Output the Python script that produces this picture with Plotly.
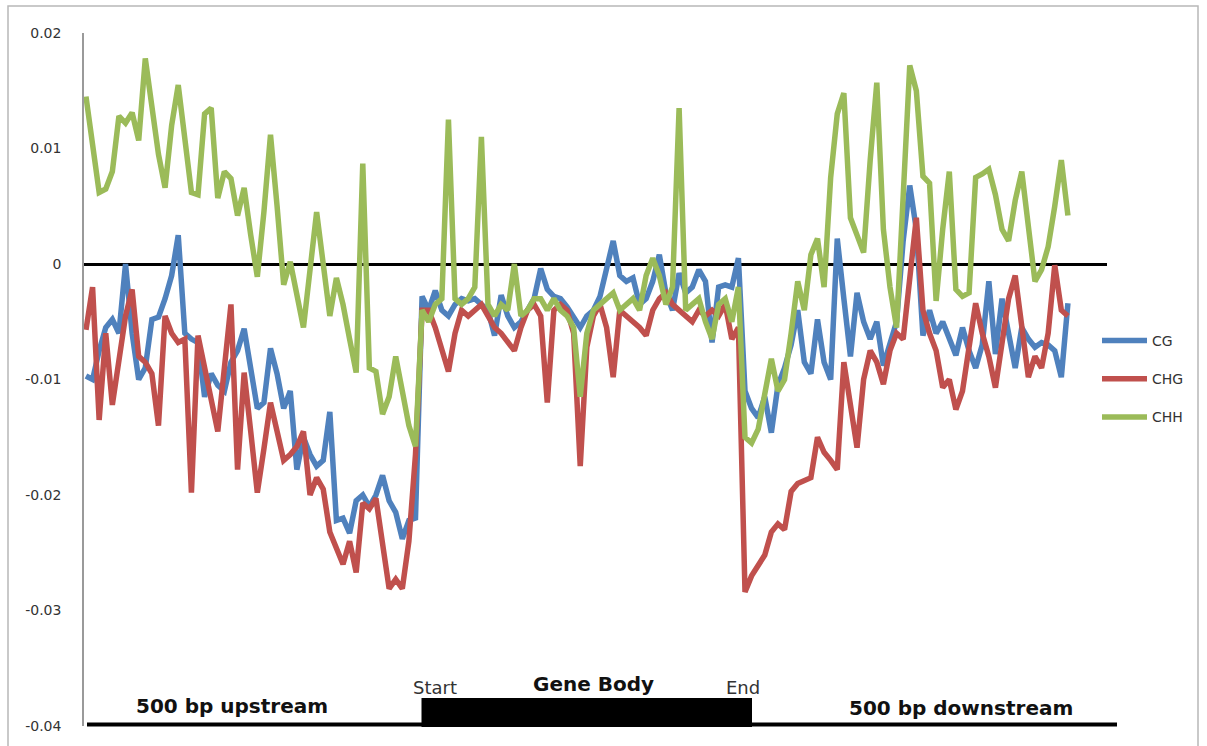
import plotly.graph_objects as go

# ---------------- data ----------------
SERIES_NAMES = ["CG", "CHG", "CHH"]
SERIES_COLORS = ["#4F81BD", "#C0504D", "#9BBB59"]

CG = [
    -0.0097, -0.0100, -0.0075, -0.0055, -0.0048, -0.0060, 0.0000, -0.0060, -0.0100, -0.0090,
    -0.0048, -0.0046, -0.0030, -0.0010, 0.0025, -0.0060, -0.0065, -0.0068, -0.0115, -0.0095,
    -0.0105, -0.0110, -0.0085, -0.0075, -0.0056, -0.0090, -0.0125, -0.0120, -0.0073, -0.0095,
    -0.0125, -0.0110, -0.0178, -0.0150, -0.0165, -0.0175, -0.0170, -0.0128, -0.0222, -0.0220,
    -0.0233, -0.0205, -0.0200, -0.0210, -0.0200, -0.0183, -0.0205, -0.0215, -0.0238, -0.0222,
    -0.0220, -0.0028, -0.0040, -0.0023, -0.0040, -0.0045, -0.0035, -0.0030, -0.0032, -0.0030,
    -0.0035, -0.0040, -0.0062, -0.0027, -0.0045, -0.0055, -0.0050, -0.0040, -0.0030, -0.0004,
    -0.0022, -0.0028, -0.0030, -0.0037, -0.0045, -0.0055, -0.0045, -0.0040, -0.0028, -0.0005,
    0.0020, -0.0010, -0.0015, -0.0012, -0.0035, -0.0030, -0.0015, 0.0008, -0.0025, -0.0040,
    -0.0008, -0.0025, -0.0020, -0.0005, -0.0015, -0.0068, -0.0020, -0.0018, -0.0020, 0.0005,
    -0.0110, -0.0125, -0.0133, -0.0115, -0.0146, -0.0105, -0.0090, -0.0070, -0.0040, -0.0085,
    -0.0095, -0.0048, -0.0085, -0.0100, 0.0022, -0.0030, -0.0080, -0.0025, -0.0050, -0.0065,
    -0.0050, -0.0088, -0.0070, -0.0050, 0.0020, 0.0068, 0.0030, -0.0062, -0.0040, -0.0060,
    -0.0050, -0.0065, -0.0079, -0.0055, -0.0075, -0.0090, -0.0070, -0.0015, -0.0078, -0.0030,
    -0.0060, -0.0090, -0.0055, -0.0065, -0.0072, -0.0068, -0.0070, -0.0075, -0.0098, -0.0034,
]

CHG = [
    -0.0057, -0.0020, -0.0135, -0.0060, -0.0122, -0.0080, -0.0045, -0.0022, -0.0080, -0.0085,
    -0.0095, -0.0140, -0.0045, -0.0060, -0.0068, -0.0065, -0.0198, -0.0062, -0.0090, -0.0115,
    -0.0145, -0.0090, -0.0035, -0.0178, -0.0094, -0.0145, -0.0198, -0.0160, -0.0120, -0.0145,
    -0.0170, -0.0165, -0.0158, -0.0145, -0.0200, -0.0185, -0.0195, -0.0232, -0.0245, -0.0260,
    -0.0240, -0.0267, -0.0207, -0.0212, -0.0203, -0.0245, -0.0281, -0.0273, -0.0281, -0.0240,
    -0.0165, -0.0040, -0.0040, -0.0055, -0.0075, -0.0093, -0.0060, -0.0040, -0.0045, -0.0040,
    -0.0035, -0.0045, -0.0055, -0.0060, -0.0068, -0.0075, -0.0055, -0.0040, -0.0035, -0.0045,
    -0.0120, -0.0040, -0.0035, -0.0040, -0.0060, -0.0175, -0.0072, -0.0045, -0.0035, -0.0055,
    -0.0098, -0.0040, -0.0045, -0.0050, -0.0055, -0.0062, -0.0040, -0.0030, -0.0025, -0.0035,
    -0.0040, -0.0045, -0.0050, -0.0040, -0.0045, -0.0040, -0.0045, -0.0035, -0.0065, -0.0055,
    -0.0284, -0.0270, -0.0262, -0.0252, -0.0232, -0.0225, -0.0230, -0.0197, -0.0190, -0.0188,
    -0.0185, -0.0150, -0.0163, -0.0170, -0.0178, -0.0085, -0.0120, -0.0159, -0.0100, -0.0075,
    -0.0085, -0.0104, -0.0075, -0.0060, -0.0065, -0.0010, 0.0040, -0.0040, -0.0060, -0.0075,
    -0.0107, -0.0100, -0.0126, -0.0110, -0.0070, -0.0034, -0.0060, -0.0080, -0.0107, -0.0070,
    -0.0030, -0.0010, -0.0050, -0.0098, -0.0080, -0.0090, -0.0060, -0.0001, -0.0040, -0.0045,
]

CHH = [
    0.0145, 0.0105, 0.0062, 0.0065, 0.0080, 0.0128, 0.0122, 0.0131, 0.0107, 0.0178,
    0.0135, 0.0095, 0.0066, 0.0120, 0.0155, 0.0110, 0.0062, 0.0060, 0.0130, 0.0135,
    0.0057, 0.0080, 0.0074, 0.0042, 0.0066, 0.0025, -0.0011, 0.0045, 0.0112, 0.0050,
    -0.0018, 0.0002, -0.0025, -0.0055, -0.0005, 0.0045, 0.0000, -0.0045, -0.0012, -0.0035,
    -0.0065, -0.0094, 0.0087, -0.0090, -0.0093, -0.0130, -0.0115, -0.0080, -0.0110, -0.0140,
    -0.0158, -0.0040, -0.0050, -0.0035, -0.0030, 0.0125, -0.0030, -0.0035, -0.0030, -0.0020,
    0.0110, -0.0035, -0.0045, -0.0035, -0.0040, 0.0000, -0.0045, -0.0040, -0.0030, -0.0030,
    -0.0040, -0.0030, -0.0040, -0.0045, -0.0055, -0.0115, -0.0060, -0.0040, -0.0035, -0.0030,
    -0.0025, -0.0040, -0.0035, -0.0030, -0.0040, -0.0010, 0.0005, -0.0010, -0.0035, -0.0020,
    0.0135, -0.0040, -0.0035, -0.0030, -0.0050, -0.0065, -0.0035, -0.0030, -0.0050, -0.0020,
    -0.0150, -0.0155, -0.0143, -0.0110, -0.0082, -0.0110, -0.0100, -0.0060, -0.0015, -0.0040,
    0.0008, 0.0022, -0.0020, 0.0075, 0.0130, 0.0148, 0.0040, 0.0025, 0.0010, 0.0090,
    0.0157, 0.0030, -0.0020, -0.0055, 0.0060, 0.0172, 0.0150, 0.0076, 0.0070, -0.0032,
    0.0030, 0.0080, -0.0022, -0.0028, -0.0025, 0.0075, 0.0078, 0.0082, 0.0060, 0.0030,
    0.0020, 0.0055, 0.0080, 0.0030, -0.0015, -0.0005, 0.0015, 0.0050, 0.0090, 0.0042,
]

Y_TICKS = [0.02, 0.01, 0, -0.01, -0.02, -0.03, -0.04]
Y_TICK_TEXT = ["0.02", "0.01", "0", "-0.01", "-0.02", "-0.03", "-0.04"]
REGION_LABELS = ["500 bp upstream", "Gene Body", "500 bp downstream"]
GENE_MARK_LABELS = ["Start", "End"]

# ---------------- layout geometry ----------------
W, H = 1207, 746
PL, PR, PT, PB = 84, 1107, 33, 726          # plot area in pixels
X_MIN, X_MAX = -0.30, 154.93                 # index range shown
Y_MIN, Y_MAX = -0.04, 0.02


def px_x(px):
    return (px - PL) / (PR - PL)


def px_y(py):
    return (PB - py) / (PB - PT)


x_idx = list(range(len(CG)))
fig = go.Figure()
for name, ys, col in zip(SERIES_NAMES, [CG, CHG, CHH], SERIES_COLORS):
    fig.add_trace(go.Scatter(
        x=x_idx, y=ys, mode="lines", name=name, legendgroup=name,
        line=dict(color=col, width=5.5),
    ))

font_main = "DejaVu Sans"

annotations = [
    dict(x=px_x(232), y=px_y(706), text=REGION_LABELS[0],
         font=dict(family=font_main, size=20, color="#111"), ),
    dict(x=px_x(593), y=px_y(684), text=REGION_LABELS[1],
         font=dict(family=font_main, size=20, color="#111"), ),
    dict(x=px_x(961), y=px_y(708), text=REGION_LABELS[2],
         font=dict(family=font_main, size=20, color="#111"), ),
    dict(x=px_x(435), y=px_y(687), text=GENE_MARK_LABELS[0],
         font=dict(family=font_main, size=18, color="#333"), ),
    dict(x=px_x(743), y=px_y(687), text=GENE_MARK_LABELS[1],
         font=dict(family=font_main, size=18, color="#333"), ),
]
for a in annotations:
    a.update(xref="paper", yref="paper", showarrow=False,
             xanchor="center", yanchor="middle")
    if a["text"] in REGION_LABELS:
        a["text"] = "<b>" + a["text"] + "</b>"

shapes = [
    # outer frame
    dict(type="rect", xref="paper", yref="paper",
         x0=px_x(8), x1=px_x(1198), y0=px_y(752), y1=px_y(6),
         line=dict(color="#b8b8b8", width=1.5), fillcolor="rgba(0,0,0,0)", layer="below"),
    # gene model baseline
    dict(type="line", xref="paper", yref="paper",
         x0=px_x(87), x1=px_x(1117), y0=px_y(724.5), y1=px_y(724.5),
         line=dict(color="black", width=4)),
    # gene body box
    dict(type="rect", xref="paper", yref="paper",
         x0=px_x(421.5), x1=px_x(752), y0=px_y(727), y1=px_y(698),
         line=dict(color="black", width=0), fillcolor="black"),
]

fig.update_layout(
    width=W, height=H,
    margin=dict(l=PL, r=W - PR, t=PT, b=H - PB, pad=0),
    paper_bgcolor="white", plot_bgcolor="white",
    showlegend=True,
    legend=dict(x=px_x(1097), y=px_y(325), xanchor="left", yanchor="top",
                font=dict(family=font_main, size=14, color="#333"),
                itemwidth=45,
                tracegroupgap=17, bgcolor="rgba(0,0,0,0)", borderwidth=0),
    xaxis=dict(range=[X_MIN, X_MAX], visible=False, showgrid=False, zeroline=False),
    yaxis=dict(range=[Y_MIN, Y_MAX], tickvals=Y_TICKS, ticktext=Y_TICK_TEXT,
               showgrid=False, showline=True, linecolor="#9a9a9a", linewidth=1.5,
               zeroline=True, zerolinecolor="black", zerolinewidth=3,
               ticks="", ticklabelstandoff=18,
               tickfont=dict(family=font_main, size=14, color="#333")),
    annotations=annotations,
    shapes=shapes,
)

fig.write_html("out.html")
